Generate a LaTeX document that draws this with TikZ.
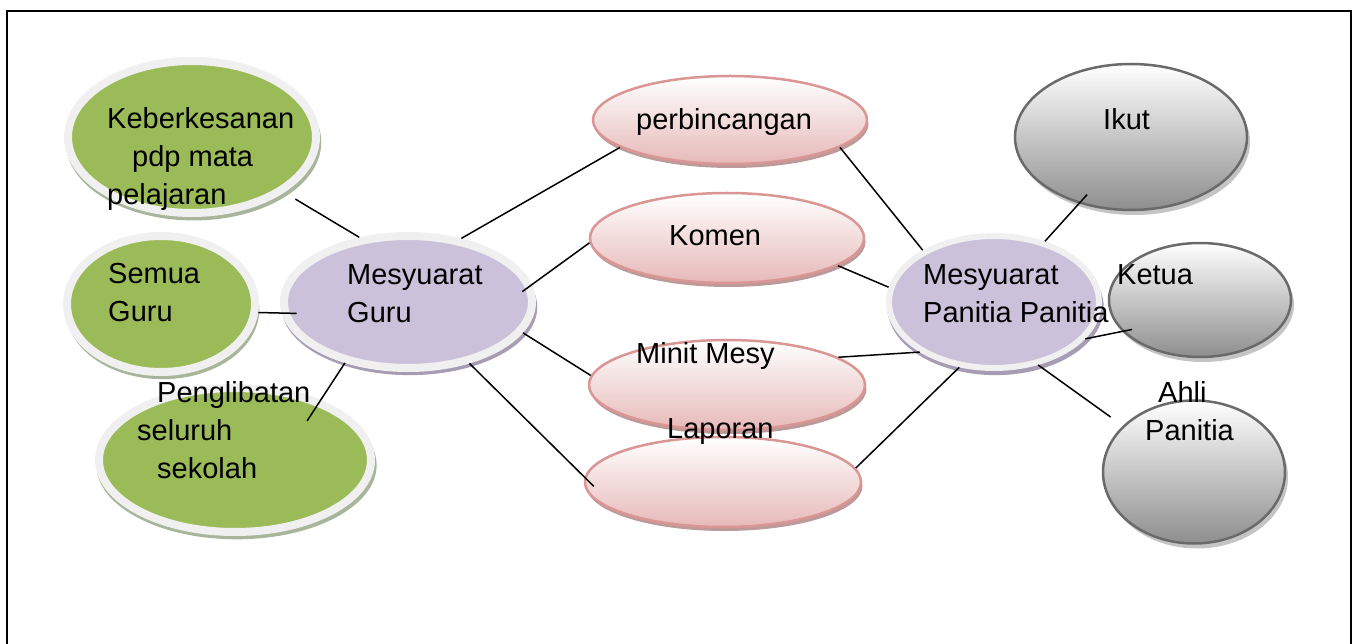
\documentclass[tikz,border=0pt]{standalone}
\usepackage{fontspec}
\setmainfont{Liberation Sans}
\usetikzlibrary{shapes.geometric,shadows}
\definecolor{leaf}{HTML}{9BBB59}
\definecolor{leafshadow}{HTML}{A9B59A}
\definecolor{lilac}{HTML}{CCC1DA}
\definecolor{lilacshadow}{HTML}{A69CB4}
\definecolor{rimgray}{HTML}{F0F0F0}
\definecolor{rosebottom}{HTML}{E6B9B8}
\definecolor{roseedge}{HTML}{D99694}
\definecolor{roseshadow}{HTML}{BC9A9A}
\definecolor{greybottom}{HTML}{8E8E8E}
\definecolor{greyedge}{HTML}{6A6A6A}
\definecolor{greyshadow}{HTML}{C4C4C4}

\begin{document}
\begin{tikzpicture}[
  x=1pt, y=-1pt,
  font=\fontsize{29}{38}\selectfont,
  rimbox/.style={ellipse, draw=rimgray, line width=8pt, inner sep=0pt},
  greenbox/.style={rimbox, fill=leaf, drop shadow={shadow xshift=1.5pt, shadow yshift=-5pt, shadow scale=1.03, fill=leafshadow, opacity=1}},
  lilacbox/.style={rimbox, fill=lilac, drop shadow={shadow xshift=1.5pt, shadow yshift=-5pt, shadow scale=1.03, fill=lilacshadow, opacity=1}},
  rosebox/.style={ellipse, draw=roseedge, line width=2.5pt, inner sep=0pt, top color=white, bottom color=rosebottom, drop shadow={shadow xshift=1.5pt, shadow yshift=-4pt, fill=roseshadow, opacity=1}},
  greybox/.style={ellipse, draw=greyedge, line width=2.5pt, inner sep=0pt, top color=white, bottom color=greybottom, drop shadow={shadow xshift=3pt, shadow yshift=-5pt, fill=greyshadow, opacity=1}},
  link/.style={line width=1.5pt},
  txt/.style={anchor=base west, inner sep=0pt, align=left}
]
\useasboundingbox (0,0) rectangle (1358,644);
\draw[line width=2.5pt] (7,660) -- (7,11) -- (1351,11) -- (1351,660);

\node[greenbox, minimum width=248pt, minimum height=152pt] (keb)   at (192,137) {};
\node[greenbox, minimum width=188pt, minimum height=136pt] (semua) at (161,304) {};
\node[greenbox, minimum width=272pt, minimum height=144pt] (peng)  at (235,460) {};
\node[lilacbox, minimum width=248pt, minimum height=132pt] (mg)    at (408,302) {};
\node[lilacbox, minimum width=210pt, minimum height=132pt, line width=6pt] (mp) at (994,302) {};

\node[rosebox, minimum width=274pt, minimum height=88pt] (perb)  at (730,120) {};
\node[rosebox, minimum width=274pt, minimum height=90pt] (komen) at (727,238) {};
\node[rosebox, minimum width=276pt, minimum height=90pt] (minit) at (727,385) {};
\node[rosebox, minimum width=276pt, minimum height=90pt] (lap)   at (723,482) {};

\node[greybox, minimum width=232pt, minimum height=146pt] (ikut)  at (1131,137) {};
\node[greybox, minimum width=182pt, minimum height=114pt] (ketua) at (1200,300) {};
\node[greybox, minimum width=182pt, minimum height=143pt] (ahli)  at (1194,472) {};

\draw[link, shorten <=13pt] (keb.-31) -- (mg.127);
\draw[link, shorten >=-15pt] (semua.-5) -- (mg.185);
\draw[link, shorten <=-25pt] (peng.35) -- (mg.224);
\draw[link] (mg.50) -- (perb.194);
\draw[link, shorten <=-12pt] (mg.8) -- (komen.182);
\draw[link] (mg.-15) -- (minit.176);
\draw[link, shorten >=-13pt] (mg.-45) -- (lap.178);
\draw[link] (perb.-14) -- (mp.144);
\draw[link] (komen.-14) -- (mp.172);
\draw[link] (minit.14) -- (mp.214);
\draw[link] (lap.6) -- (mp.242);
\draw[link, shorten >=-12pt] (mp.50) -- (ikut.232);
\draw[link, shorten >=-10pt] (mp.-22) -- (ketua.202);
\draw[link, shorten >=15pt] (mp.-55) -- (ahli.147);

\node[txt] (tkeb)   at (107,205)  {Keberkesanan\\\hspace*{25pt}pdp mata\\pelajaran};
\node[txt] (tsemua) at (108,322)  {Semua\\Guru};
\node[txt] (tpeng)  at (137,478)  {\hspace*{20pt}Penglibatan\\seluruh\\\hspace*{20pt}sekolah};
\node[txt] (tmg)    at (347,323)  {Mesyuarat\\Guru};
\node[txt] (tperb)  at (636,130)  {perbincangan};
\node[txt] (tkomen) at (669,246)  {Komen};
\node[txt] (tminit) at (636,363)  {Minit Mesy};
\node[txt] (tlap)   at (667,438)  {Laporan};
\node[txt] (tmp)    at (923,323)  {Mesyuarat\\Panitia Panitia};
\node[txt] (tikut)  at (1103,130) {Ikut};
\node[txt] (tketua) at (1117,285) {Ketua};
\node[txt] (tahli)  at (1145,440) {\hspace*{13pt}Ahli\\Panitia};
\end{tikzpicture}
\end{document}
